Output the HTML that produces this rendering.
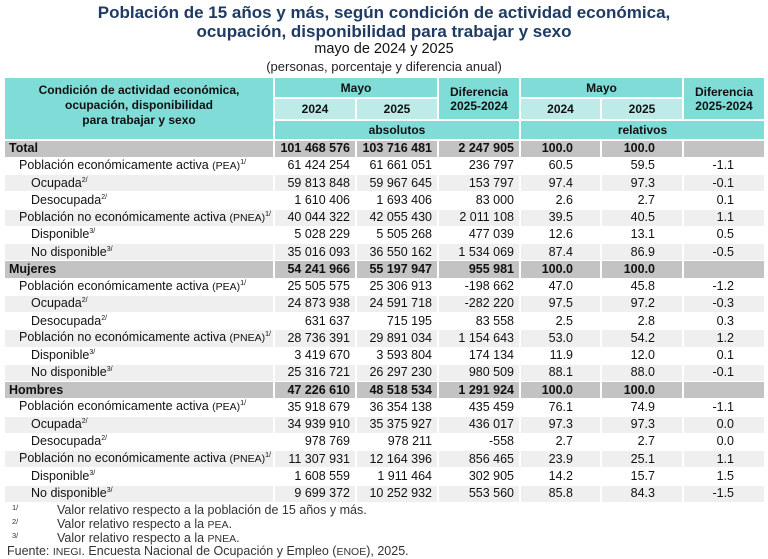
<!DOCTYPE html>
<html><head><meta charset="utf-8"><style>
body{margin:0;width:768px;height:559px;background:#fff;font-family:"Liberation Sans",Arial,sans-serif;position:relative;overflow:hidden}
.t{position:absolute;left:0;width:768px;text-align:center}
table{position:absolute;left:3px;top:76px;border-collapse:collapse;table-layout:fixed;width:761px;font-size:12.5px;color:#111}
td{padding:0;border:2px solid #fff;white-space:nowrap;overflow:hidden;box-sizing:border-box}
.h{background:#7fdcd7;font-weight:bold;text-align:center;font-size:12px;line-height:14px}
.hl{background:#bdece8;font-weight:bold;text-align:center;font-size:12px;line-height:14px}
tr.r{height:17.25px}
tr.r td{height:17.25px;line-height:13px;border-top-width:1px;border-bottom-width:1px}
tr.g td{background:#c3c3c3;font-weight:bold}
tr.w td{background:#fff}
tr.s td{background:#efefef}
.n{text-align:right;padding-right:5px}
.p{text-align:right;padding-right:27px}
.d{text-align:right;padding-right:30px}
.l1{padding-left:14px}.l2{padding-left:26px}.l0{padding-left:4px}
sup{font-size:7px;vertical-align:baseline;position:relative;top:-5px;line-height:0}
.sm{font-size:10.5px}
.fn{position:absolute;font-size:12.5px;color:#333}
.fs{position:absolute;left:12px;font-size:7.5px;color:#333}
</style></head><body>
<div class="t" style="top:3px;font-size:17px;font-weight:bold;color:#1f3b63;line-height:19px">Población de 15 años y más, según condición de actividad económica,<br>ocupación, disponibilidad para trabajar y sexo</div>
<div class="t" style="top:41px;font-size:14.5px;color:#111">mayo de 2024 y 2025</div>
<div class="t" style="top:59px;font-size:13px;color:#222">(personas, porcentaje y diferencia anual)</div>
<table>
<colgroup><col style="width:270px"><col style="width:82px"><col style="width:82px"><col style="width:82px"><col style="width:81px"><col style="width:82px"><col style="width:82px"></colgroup>
<tr style="height:21px"><td class="h" rowspan="3" style="vertical-align:middle;line-height:15px;padding-bottom:6px">Condición de actividad económica,<br>ocupación, disponibilidad<br>para trabajar y sexo</td><td class="h" colspan="2" style="height:21px">Mayo</td><td class="h" rowspan="2">Diferencia<br>2025-2024</td><td class="h" colspan="2">Mayo</td><td class="h" rowspan="2">Diferencia<br>2025-2024</td></tr>
<tr style="height:22px"><td class="hl" style="height:22px">2024</td><td class="hl">2025</td><td class="hl">2024</td><td class="hl">2025</td></tr>
<tr style="height:20px"><td class="h" colspan="3" style="height:20px">absolutos</td><td class="h" colspan="3">relativos</td></tr>
<tr class="r g"><td class="l0">Total</td><td class="n">101 468 576</td><td class="n">103 716 481</td><td class="n">2 247 905</td><td class="p">100.0</td><td class="p">100.0</td><td></td></tr>
<tr class="r w"><td class="l1">Población económicamente activa <span class="sm">(PEA)</span><sup>1/</sup></td><td class="n">61 424 254</td><td class="n">61 661 051</td><td class="n">236 797</td><td class="p">60.5</td><td class="p">59.5</td><td class="d">-1.1</td></tr>
<tr class="r s"><td class="l2">Ocupada<sup>2/</sup></td><td class="n">59 813 848</td><td class="n">59 967 645</td><td class="n">153 797</td><td class="p">97.4</td><td class="p">97.3</td><td class="d">-0.1</td></tr>
<tr class="r w"><td class="l2">Desocupada<sup>2/</sup></td><td class="n">1 610 406</td><td class="n">1 693 406</td><td class="n">83 000</td><td class="p">2.6</td><td class="p">2.7</td><td class="d">0.1</td></tr>
<tr class="r s"><td class="l1">Población no económicamente activa <span class="sm">(PNEA)</span><sup>1/</sup></td><td class="n">40 044 322</td><td class="n">42 055 430</td><td class="n">2 011 108</td><td class="p">39.5</td><td class="p">40.5</td><td class="d">1.1</td></tr>
<tr class="r w"><td class="l2">Disponible<sup>3/</sup></td><td class="n">5 028 229</td><td class="n">5 505 268</td><td class="n">477 039</td><td class="p">12.6</td><td class="p">13.1</td><td class="d">0.5</td></tr>
<tr class="r s"><td class="l2">No disponible<sup>3/</sup></td><td class="n">35 016 093</td><td class="n">36 550 162</td><td class="n">1 534 069</td><td class="p">87.4</td><td class="p">86.9</td><td class="d">-0.5</td></tr>
<tr class="r g"><td class="l0">Mujeres</td><td class="n">54 241 966</td><td class="n">55 197 947</td><td class="n">955 981</td><td class="p">100.0</td><td class="p">100.0</td><td></td></tr>
<tr class="r w"><td class="l1">Población económicamente activa <span class="sm">(PEA)</span><sup>1/</sup></td><td class="n">25 505 575</td><td class="n">25 306 913</td><td class="n">-198 662</td><td class="p">47.0</td><td class="p">45.8</td><td class="d">-1.2</td></tr>
<tr class="r s"><td class="l2">Ocupada<sup>2/</sup></td><td class="n">24 873 938</td><td class="n">24 591 718</td><td class="n">-282 220</td><td class="p">97.5</td><td class="p">97.2</td><td class="d">-0.3</td></tr>
<tr class="r w"><td class="l2">Desocupada<sup>2/</sup></td><td class="n">631 637</td><td class="n">715 195</td><td class="n">83 558</td><td class="p">2.5</td><td class="p">2.8</td><td class="d">0.3</td></tr>
<tr class="r s"><td class="l1">Población no económicamente activa <span class="sm">(PNEA)</span><sup>1/</sup></td><td class="n">28 736 391</td><td class="n">29 891 034</td><td class="n">1 154 643</td><td class="p">53.0</td><td class="p">54.2</td><td class="d">1.2</td></tr>
<tr class="r w"><td class="l2">Disponible<sup>3/</sup></td><td class="n">3 419 670</td><td class="n">3 593 804</td><td class="n">174 134</td><td class="p">11.9</td><td class="p">12.0</td><td class="d">0.1</td></tr>
<tr class="r s"><td class="l2">No disponible<sup>3/</sup></td><td class="n">25 316 721</td><td class="n">26 297 230</td><td class="n">980 509</td><td class="p">88.1</td><td class="p">88.0</td><td class="d">-0.1</td></tr>
<tr class="r g"><td class="l0">Hombres</td><td class="n">47 226 610</td><td class="n">48 518 534</td><td class="n">1 291 924</td><td class="p">100.0</td><td class="p">100.0</td><td></td></tr>
<tr class="r w"><td class="l1">Población económicamente activa <span class="sm">(PEA)</span><sup>1/</sup></td><td class="n">35 918 679</td><td class="n">36 354 138</td><td class="n">435 459</td><td class="p">76.1</td><td class="p">74.9</td><td class="d">-1.1</td></tr>
<tr class="r s"><td class="l2">Ocupada<sup>2/</sup></td><td class="n">34 939 910</td><td class="n">35 375 927</td><td class="n">436 017</td><td class="p">97.3</td><td class="p">97.3</td><td class="d">0.0</td></tr>
<tr class="r w"><td class="l2">Desocupada<sup>2/</sup></td><td class="n">978 769</td><td class="n">978 211</td><td class="n">-558</td><td class="p">2.7</td><td class="p">2.7</td><td class="d">0.0</td></tr>
<tr class="r s"><td class="l1">Población no económicamente activa <span class="sm">(PNEA)</span><sup>1/</sup></td><td class="n">11 307 931</td><td class="n">12 164 396</td><td class="n">856 465</td><td class="p">23.9</td><td class="p">25.1</td><td class="d">1.1</td></tr>
<tr class="r w"><td class="l2">Disponible<sup>3/</sup></td><td class="n">1 608 559</td><td class="n">1 911 464</td><td class="n">302 905</td><td class="p">14.2</td><td class="p">15.7</td><td class="d">1.5</td></tr>
<tr class="r s"><td class="l2">No disponible<sup>3/</sup></td><td class="n">9 699 372</td><td class="n">10 252 932</td><td class="n">553 560</td><td class="p">85.8</td><td class="p">84.3</td><td class="d">-1.5</td></tr>
</table>
<div class="fs" style="top:503px">1/</div><div class="fn" style="left:57px;top:503px">Valor relativo respecto a la población de 15 años y más.</div>
<div class="fs" style="top:517px">2/</div><div class="fn" style="left:57px;top:517px">Valor relativo respecto a la <span class="sm">PEA</span>.</div>
<div class="fs" style="top:531px">3/</div><div class="fn" style="left:57px;top:531px">Valor relativo respecto a la <span class="sm">PNEA</span>.</div>
<div class="fn" style="left:7px;top:544px">Fuente: <span class="sm">INEGI</span>. Encuesta Nacional de Ocupación y Empleo (<span class="sm">ENOE</span>), 2025.</div>
</body></html>
